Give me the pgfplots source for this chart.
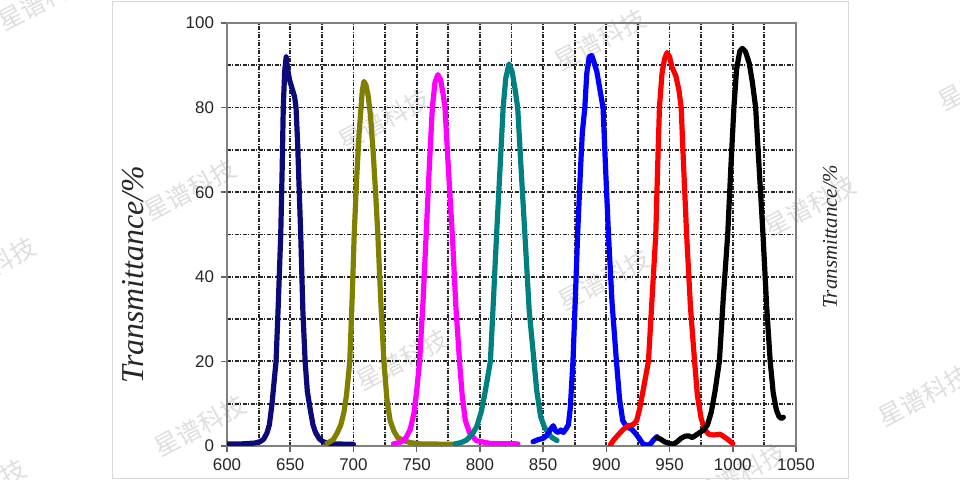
\documentclass[border=0pt]{standalone}
\usepackage{pgfplots}
\pgfplotsset{compat=1.18}
\usepackage{fontspec}
\setmainfont{Liberation Sans}
\newfontfamily\serifit{Liberation Serif}
\newfontfamily\cjk{Noto Sans CJK SC}

\definecolor{cNavy}{RGB}{10,10,120}
\definecolor{cOlive}{RGB}{128,128,0}
\definecolor{cMag}{RGB}{255,0,255}
\definecolor{cTeal}{RGB}{0,128,128}
\definecolor{cBlue}{RGB}{0,0,255}
\definecolor{cRed}{RGB}{255,0,0}
\definecolor{wm}{RGB}{222,222,222}

\begin{document}
\begin{tikzpicture}
\useasboundingbox (0,0) rectangle (480bp,240bp);
\fill[white] (0,0) rectangle (480bp,240bp);
\draw[gray!30, line width=0.5bp] (56bp,1bp) rectangle (424bp,239bp);

% watermarks
\begin{scope}[every node/.style={text=wm, font=\cjk\fontsize{12.5}{13}\selectfont, rotate=28}]
\node at (22bp,240bp) {星谱科技};
\node at (-5bp,106bp) {星谱科技};
\node at (300bp,220bp) {星谱科技};
\node at (192bp,180bp) {星谱科技};
\node at (95bp,145bp) {星谱科技};
\node at (405bp,137bp) {星谱科技};
\node at (302bp,100bp) {星谱科技};
\node at (201bp,60bp) {星谱科技};
\node at (100bp,27bp) {星谱科技};
\node at (462bp,42bp) {星谱科技};
\node at (-10bp,-5bp) {星谱科技};
\node at (370bp,3bp) {星谱科技};
\node at (492bp,200bp) {星谱科技};
\end{scope}

\begin{axis}[
  at={(113.5bp,17bp)}, anchor=south west,
  scale only axis, width=284.5bp, height=211.5bp,
  xmin=600, xmax=1050, ymin=0, ymax=100,
  xtick={600,650,...,1050}, ytick={0,20,...,100},
  minor xtick={625,675,...,1025}, minor ytick={10,30,...,90},
  grid=both,
  major grid style={black!85, line width=0.9bp, dash pattern=on 1.8bp off 0.8bp on 0.6bp off 0.8bp},
  minor grid style={black!85, line width=0.9bp, dash pattern=on 1.8bp off 0.8bp on 0.6bp off 0.8bp},
  axis line style={black!50, line width=1.2bp},
  xtick pos=left, ytick pos=left,
  tick align=outside, major tick length=3bp, minor tick length=0bp,
  tick style={black!60, line width=0.8bp},
  ticklabel style={font=\fontsize{8.5}{9}\selectfont, text=black!85},
  /pgf/number format/assume math mode=true,
  /pgf/number format/1000 sep={},
  every axis plot/.append style={line width=2.6bp, line join=round, line cap=round, mark=none},
]
% navy
\addplot[cNavy] coordinates {(600,0.5)(612,0.5)(622,0.7)(626,1)(629,1.6)(631.5,3)(633.5,5)(635.6,10)(637.5,16)(638.8,20)(640.5,33)(642.5,50)(643.6,65)(644.5,80)(645.6,88.5)(646.8,92)(648,89)(649.5,86.5)(651.5,84.5)(653.5,82.5)(654.6,80)(655.8,72)(658.3,50)(660,32)(661.8,20)(663.5,13)(665.9,8.5)(668,5)(670,3.2)(673,1.7)(676,1)(682,0.5)(700,0.4)};
% olive
\addplot[cOlive] coordinates {(679,0.6)(684,1.5)(687,3)(690,5)(692.5,8)(694.5,12)(697.1,20)(699,35)(700.6,50)(702.5,63)(704.5,74)(706,80)(707,84)(708.3,86.2)(710,85.2)(711.8,82.5)(713.5,78)(715.5,70)(717.5,60)(719.3,50)(721.5,35)(724.1,20)(726.5,11)(729,6)(732,3.5)(735,2)(739.5,1.3)(745,0.8)(752.6,0.5)(780,0.4)};
% magenta
\addplot[cMag] coordinates {(731.6,0.5)(736,0.8)(739.5,1.3)(742,2.2)(745,4)(748,8)(750,13)(752.3,20)(755,34)(757.5,50)(760,66)(762.4,80)(764.5,86)(766.8,87.8)(769,86.5)(771,83)(772.4,80)(775,66)(778.2,50)(781,33)(783.9,20)(786,12)(788.5,6)(792,3)(797,1.3)(808,0.6)(830,0.5)};
% teal
\addplot[cTeal] coordinates {(780.3,0.5)(785,0.8)(789.5,1.4)(794,2.8)(797.5,4.6)(801,8)(804,12.5)(806,16)(808.3,20)(810.8,35)(813.2,50)(816,66)(818.4,80)(820.5,87)(823,90.3)(825.5,88.5)(828,84)(829.9,80)(832.5,66)(835.6,50)(839,32)(842.8,20)(845,13)(848,7)(851,4.5)(854,3)(857,2)(861,1.3)};
% blue
\addplot[cBlue] coordinates {(842,1)(846,1.5)(850,1.8)(853,2.5)(856,4)(858,4.8)(860,3.5)(862,3.2)(864,3.8)(866,3.2)(868,4)(870,5)(871.5,9)(873.6,20)(875.5,35)(877.3,50)(879.5,65)(881,74)(883,80)(884.5,88)(886.5,92)(888.5,92.3)(890.5,90.5)(892.5,88.5)(894.5,85)(897.4,80)(899.5,65)(901.7,50)(904.5,34)(908,20)(910.5,11)(913,6)(916,4.5)(920,4)(923,3)(926,1.8)(929,0.5)(932,0.2)(935,0.5)(937.5,1.5)(940,2.2)};
% red
\addplot[cRed] coordinates {(903,0.2)(906,1.5)(909,2.5)(913,3.8)(917,4.8)(921,5)(924,6)(926.5,9)(929,13)(933.3,20)(936,34)(939.1,50)(940.5,65)(942,80)(944,88)(946,91.5)(948,93)(950,92)(952,89.5)(955,87.5)(957.5,84)(959.2,80)(961,67)(963.5,50)(966.5,33)(969.8,20)(972,12)(975,6.5)(978,3.8)(981,2.8)(985,2.6)(990,2.8)(995,1.8)(1000,0.6)};
% black
\addplot[black] coordinates {(940,2)(943,1.6)(946,1)(950,0.6)(953,0.4)(956,1)(959,1.8)(962,2.3)(965,2.4)(968,2)(971,2.6)(974,3.2)(977,3.8)(980,5)(983,8)(986,13)(989.4,20)(992.5,35)(996,50)(998.5,66)(1000.9,80)(1003,89)(1005.5,93.3)(1007.5,94)(1010,93.3)(1013,90.5)(1015.5,86)(1018.1,80)(1021,65)(1023.9,50)(1026.8,33)(1029.6,20)(1032,12.5)(1034.5,8.5)(1036.5,7)(1038.5,6.5)(1040,6.8)};
\end{axis}

\node[rotate=90, anchor=center, font=\serifit\itshape\fontsize{16}{18}\selectfont, text=black!85]
  at (66.8bp,102.5bp) {Transmittance/\%};
\node[rotate=90, anchor=center, font=\serifit\itshape\fontsize{10.5}{12}\selectfont, text=black!85]
  at (415bp,121.5bp) {Transmittance/\%};
\end{tikzpicture}
\end{document}
